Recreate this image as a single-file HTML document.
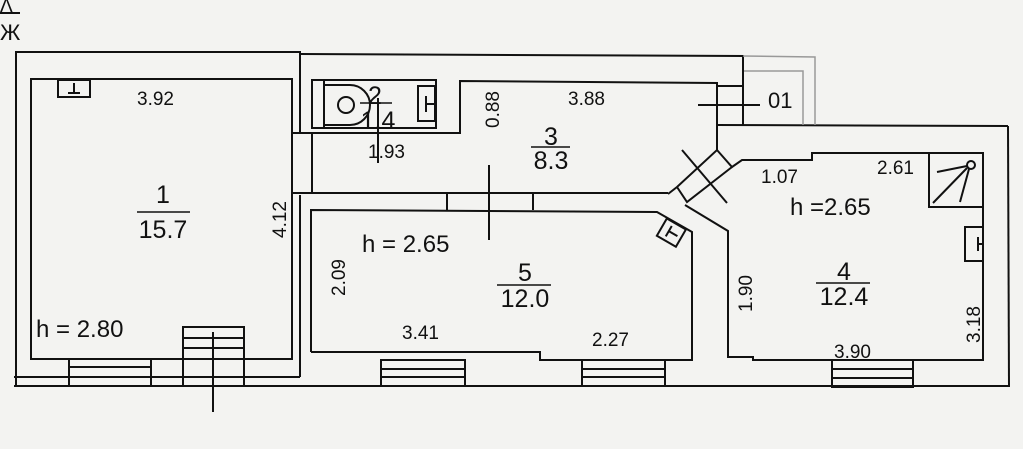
<!DOCTYPE html>
<html><head><meta charset="utf-8"><style>
html,body{margin:0;padding:0;background:#f3f3f1;}
svg{display:block;}
text{font-family:"Liberation Sans",sans-serif;fill:#111;}
</style></head><body>
<svg width="1023" height="449" viewBox="0 0 1023 449" xmlns="http://www.w3.org/2000/svg">
<rect width="1023" height="449" fill="#f3f3f1"/>
<g stroke="#111" stroke-width="2" fill="none">
<line x1="0" y1="13" x2="20" y2="13"/>
<polyline points="16,385 16,52 300,52 300,132"/>
<polyline points="300,54 743,56 743,125"/>
<line x1="14" y1="386" x2="1010" y2="386"/>
<line x1="14" y1="377" x2="300" y2="377"/>
<line x1="300" y1="195" x2="300" y2="377"/>
<rect x="31" y="79" width="261" height="280"/>
<rect x="58" y="80" width="32" height="17"/>
<line x1="74" y1="83" x2="74" y2="93"/><line x1="68" y1="93" x2="80" y2="93"/>
<rect x="69" y="359" width="82" height="27"/>
<line x1="69" y1="367" x2="151" y2="367"/><line x1="69" y1="377" x2="151" y2="377"/>
<rect x="183" y="327" width="61" height="59"/>
<line x1="183" y1="338" x2="244" y2="338"/><line x1="183" y1="348" x2="244" y2="348"/>
<line x1="213" y1="332" x2="213" y2="412"/>
<rect x="312" y="80" width="124" height="48"/>
<line x1="324" y1="80" x2="324" y2="128"/>
<path d="M324,85 H350 A20,20 0 0 1 350,125 H324"/>
<circle cx="346" cy="105" r="8"/>
<rect x="418" y="86" width="17" height="35"/>
<line x1="426" y1="96" x2="426" y2="112"/><line x1="426" y1="104" x2="434" y2="104"/>
<polyline points="292,133 460,133 460,81 717,83 717,150"/>
<line x1="312" y1="133" x2="312" y2="193"/>
<line x1="292" y1="193" x2="668" y2="193"/>
<line x1="378" y1="98" x2="378" y2="163"/>
<line x1="489" y1="165" x2="489" y2="240"/>
<line x1="698" y1="105" x2="760" y2="105"/>
<line x1="717" y1="86" x2="743" y2="86"/>
<line x1="717" y1="125" x2="1008" y2="126"/>
<line x1="1008" y1="126" x2="1009" y2="387"/>
<polyline points="311,352 311,210 657,212 692,232 692,360 540,360 540,352 311,352"/>
<line x1="447" y1="193" x2="447" y2="210"/>
<line x1="533" y1="193" x2="533" y2="210"/>
<g transform="rotate(30 670 233)"><rect x="660" y="222" width="22" height="20"/><line x1="668" y1="232" x2="678" y2="232"/><line x1="668" y1="226" x2="668" y2="238"/></g>
<rect x="381" y="360" width="84" height="26"/>
<line x1="381" y1="369" x2="465" y2="369"/><line x1="381" y1="377" x2="465" y2="377"/>
<rect x="582" y="360" width="83" height="26"/>
<line x1="582" y1="369" x2="665" y2="369"/><line x1="582" y1="377" x2="665" y2="377"/>
<!-- door -->
<polyline points="668,194 677,187 717,150 732,167 742,160 812,160 812,153 983,153"/>
<polyline points="677,187 687,202 732,167"/>
<polyline points="685,205 728,231 728,357 753,357 753,360 983,360 983,153"/>
<line x1="682" y1="150" x2="727" y2="203"/>
<rect x="929" y="153" width="54" height="54"/>
<circle cx="971" cy="165" r="4"/>
<line x1="967" y1="168" x2="933" y2="203"/><line x1="969" y1="169" x2="960" y2="202"/><line x1="967" y1="166" x2="937" y2="172"/>
<rect x="965" y="227" width="18" height="34"/>
<line x1="978" y1="237" x2="978" y2="251"/><line x1="978" y1="244" x2="983" y2="244"/>
<rect x="832" y="360" width="81" height="27"/>
<line x1="832" y1="369" x2="913" y2="369"/><line x1="832" y1="378" x2="913" y2="378"/>
</g>
<g stroke="#999" stroke-width="1.5" fill="none">
<polyline points="743,56 815,57 815,125"/>
<polyline points="744,71 803,71 803,125"/>
</g>
<g font-size="19">
<text x="0" y="12">Λ</text>
<text x="0" y="40" font-size="22">Ж</text>
<text x="137" y="105">3.92</text>
<text x="568" y="105">3.88</text>
<text x="368" y="158">1.93</text>
<text x="761" y="183">1.07</text>
<text x="877" y="174">2.61</text>
<text x="402" y="339">3.41</text>
<text x="592" y="346">2.27</text>
<text x="834" y="358">3.90</text>
<text x="36" y="337" font-size="24">h = 2.80</text>
<text x="362" y="252" font-size="24">h = 2.65</text>
<text x="790" y="215" font-size="24">h =2.65</text>
<text x="768" y="108" font-size="22" fill="#777">01</text>
<text transform="translate(286,238) rotate(-90)">4.12</text>
<text transform="translate(499,128) rotate(-90)">0.88</text>
<text transform="translate(345,296) rotate(-90)">2.09</text>
<text transform="translate(752,312) rotate(-90)">1.90</text>
<text transform="translate(980,343) rotate(-90)">3.18</text>
</g>
<g font-size="25" text-anchor="middle" stroke="none">
<text x="163" y="203">1</text><text x="163" y="238">15.7</text>
<text x="375" y="104">2</text><text x="378" y="129">1.4</text>
<text x="551" y="145">3</text><text x="551" y="169">8.3</text>
<text x="525" y="281">5</text><text x="525" y="307">12.0</text>
<text x="844" y="280">4</text><text x="844" y="305">12.4</text>
</g>
<g stroke="#111" stroke-width="1.5">
<line x1="137" y1="212" x2="190" y2="212"/>
<line x1="360" y1="103" x2="392" y2="103"/>
<line x1="531" y1="147" x2="570" y2="147"/>
<line x1="497" y1="285" x2="551" y2="285"/>
<line x1="816" y1="283" x2="870" y2="283"/>
</g>
</svg>
</body></html>
